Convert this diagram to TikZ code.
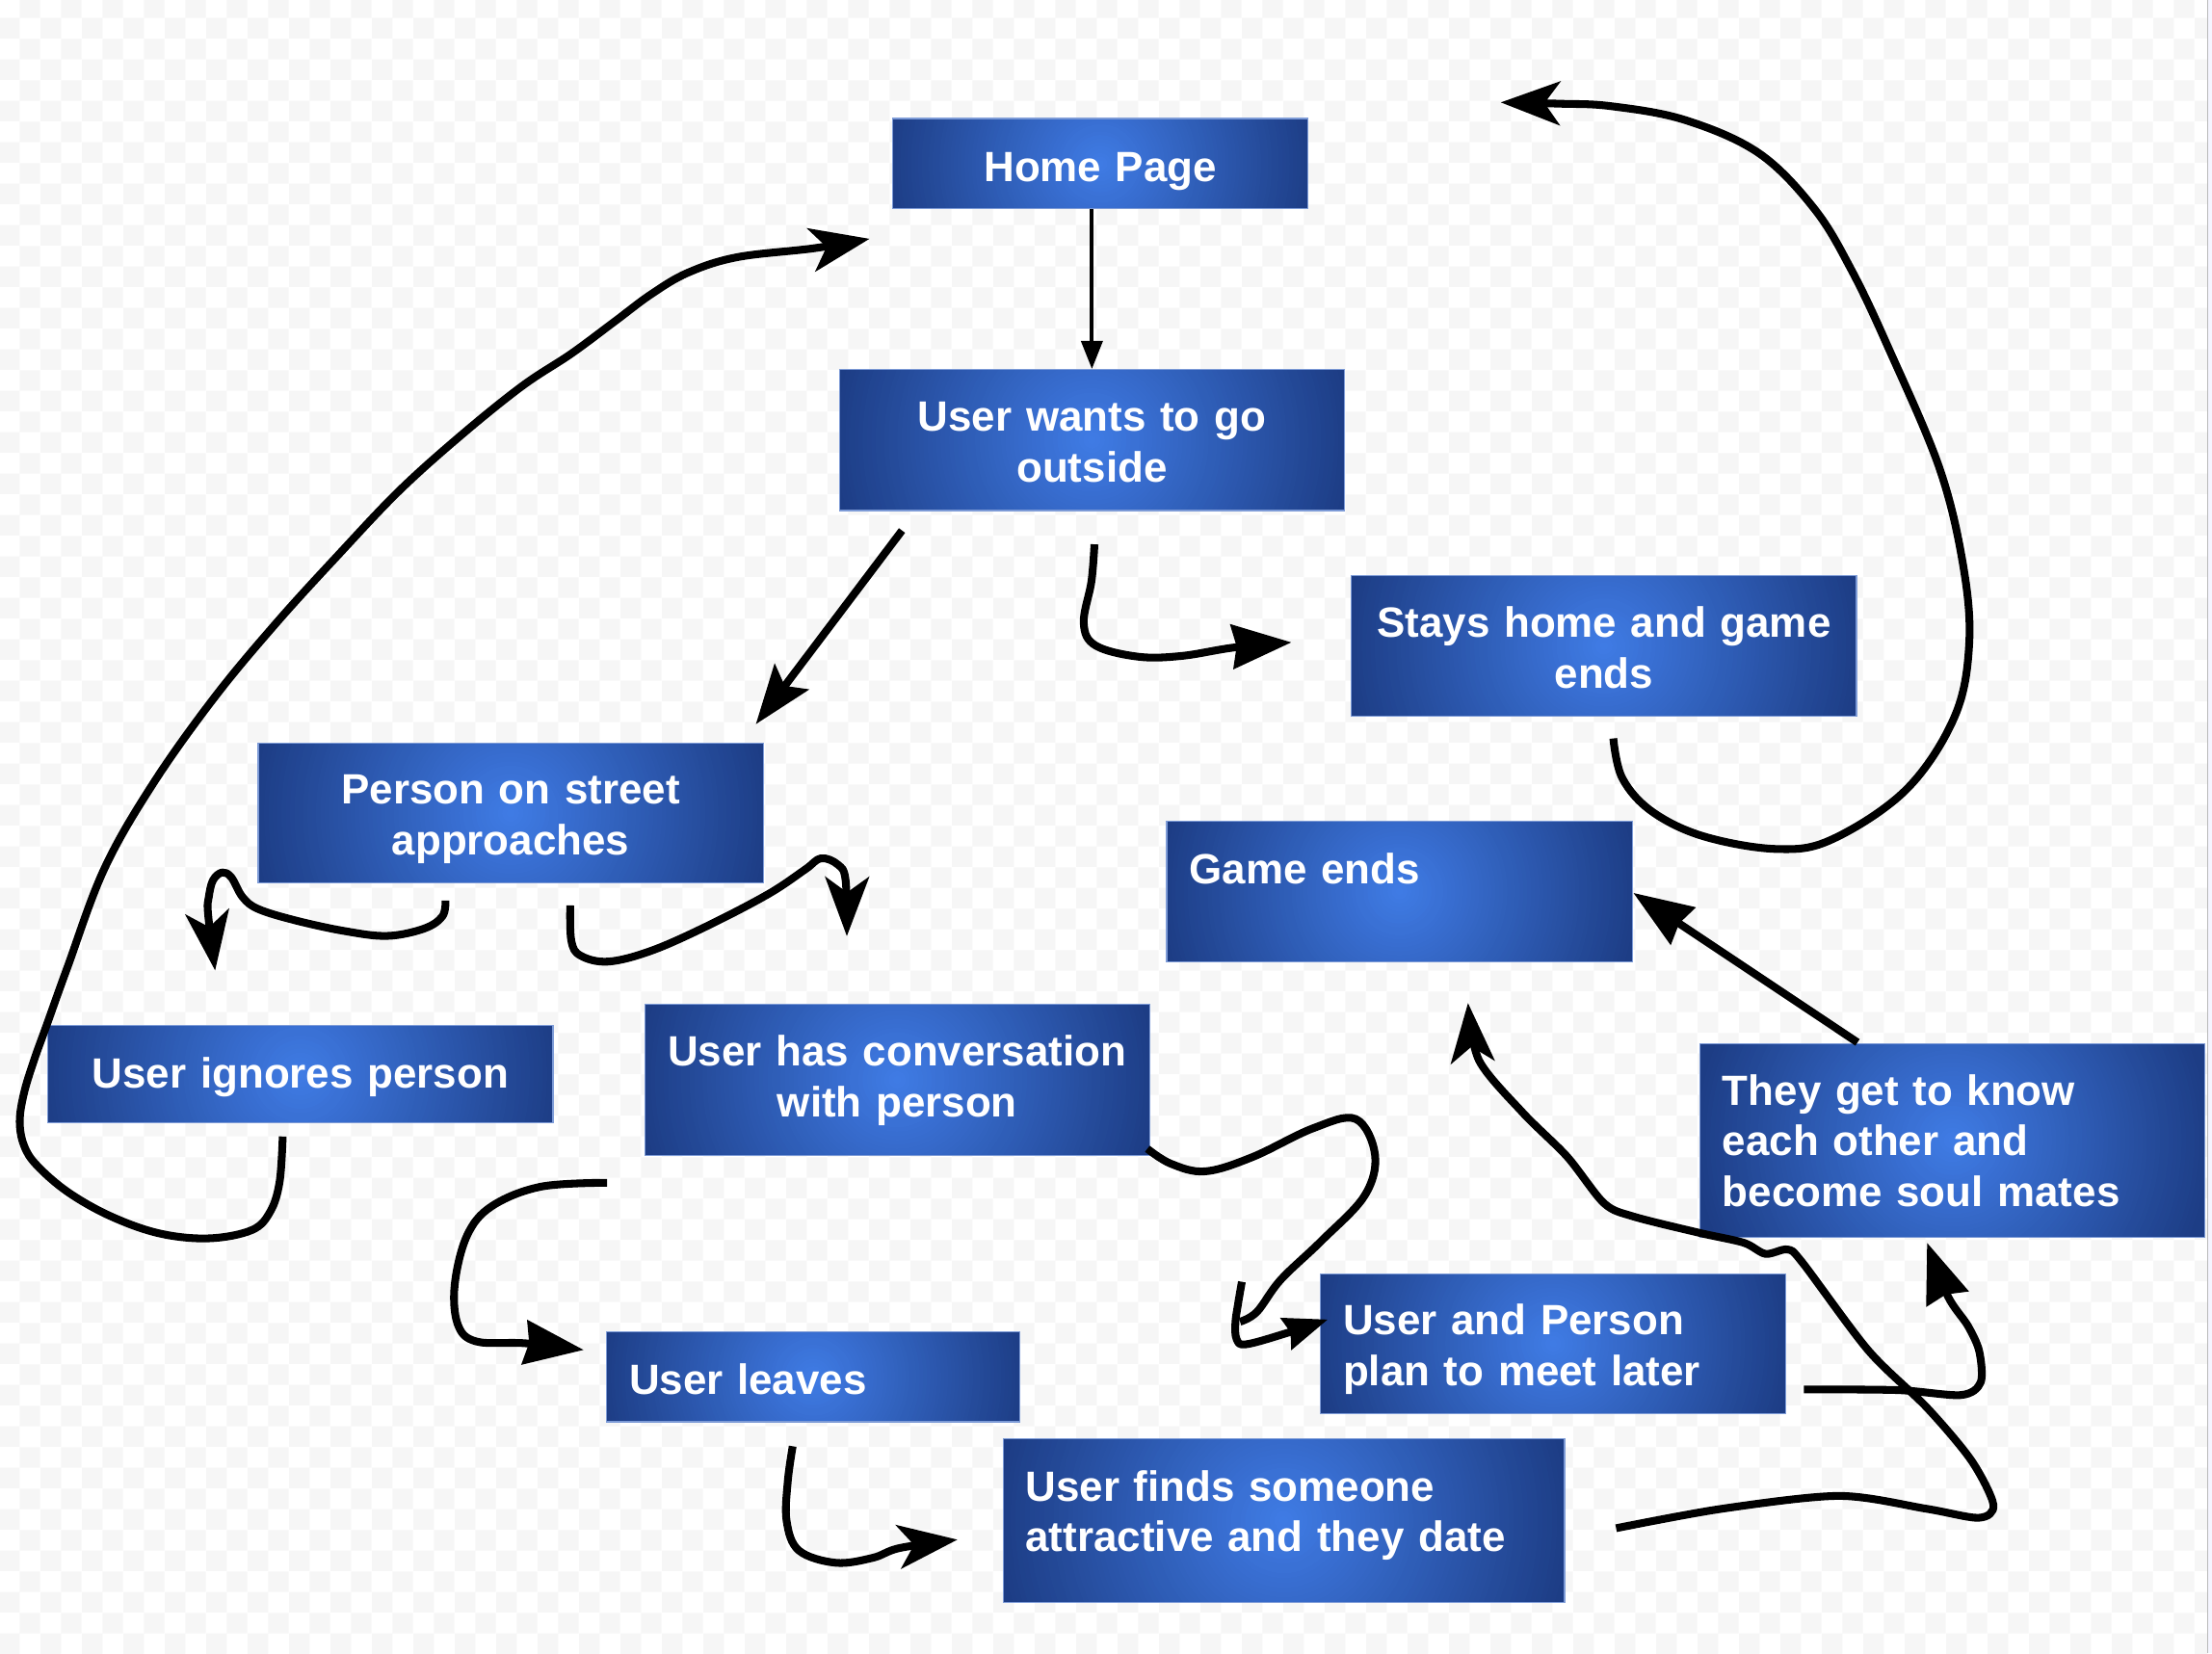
\documentclass[tikz,border=0pt]{standalone}
\usepackage{fontspec}
\newfontfamily\boxfamily{Liberation Sans}
\usetikzlibrary{arrows.meta,patterns}
\definecolor{bl1}{RGB}{64,124,230}
\definecolor{bl2}{RGB}{29,61,133}
\definecolor{bedge}{RGB}{125,155,215}
\definecolor{chk}{RGB}{246,246,246}
\pgfdeclarepatternformonly{bgcheck}{\pgfpointorigin}{\pgfpoint{29.6pt}{29.6pt}}{\pgfpoint{29.6pt}{29.6pt}}{%
  \pgfpathrectangle{\pgfpointorigin}{\pgfpoint{14.8pt}{14.8pt}}%
  \pgfpathrectangle{\pgfpoint{14.8pt}{14.8pt}}{\pgfpoint{14.8pt}{14.8pt}}%
  \pgfusepath{fill}}
\tikzset{
  box/.style={rectangle, draw=bedge, line width=0.8pt, fill=bl2, text=white,
    font=\boxfamily\bfseries\fontsize{30pt}{36pt}\selectfont,
    inner xsep=16pt, inner ysep=0pt, text height=30pt},
  shader/.style={path picture={%
    \foreach \i in {0,...,59}{%
      \pgfmathtruncatemacro{\pc}{round(100*\i/60)}%
      \fill[bl1!\pc!bl2] (path picture bounding box.center) circle[radius={#1*(1-\i/60)*1pt}];
    }}},
  conn/.style={line width=5.5pt, line join=round, black},
  pen/.style={-{Stealth[length=42pt,width=31pt,inset=11pt]}},
  tri/.style={-{Stealth[length=42pt,width=31pt,inset=3pt]}},
  smalltri/.style={-{Stealth[length=31pt,width=23pt,inset=3pt]}}
}
\begin{document}
\begin{tikzpicture}[x=1pt,y=-1pt]
\useasboundingbox (0,0) rectangle (1568,1172);
\fill[white] (0,0) rectangle (1565,1172);
\fill[pattern=bgcheck, pattern color=chk] (0,0) rectangle (1565,1172);
\fill[white!96!blue] (1565,0) rectangle (1568,1172);
\draw[gray!55, line width=0.8pt] (1565,0) -- (1565,1172);

% boxes
\node[box, shader=152, minimum width=294pt, minimum height=64pt, text width=262pt, align=center, text depth=4.8pt] (home) at (780,116) {Home Page};
\node[box, shader=184, minimum width=358pt, minimum height=100pt, text width=326pt, align=center, text depth=42.4pt] (outside) at (774,312) {User wants to go\\outside};
\node[box, shader=184, minimum width=358pt, minimum height=100pt, text width=326pt, align=center, text depth=42pt] (stays) at (1137,458) {Stays home and game\\ends};
\node[box, shader=170, minimum width=330pt, minimum height=100pt, text width=298pt, align=left, text depth=40.8pt] (gameends) at (992,632) {Game ends};
\node[box, shader=184, minimum width=358pt, minimum height=99pt, text width=326pt, align=center, text depth=43pt] (person) at (362,576.5) {Person on street\\approaches};
\node[box, shader=184, minimum width=358pt, minimum height=69pt, text width=326pt, align=center, text depth=9.8pt] (ignores) at (213,761.5) {User ignores person};
\node[box, shader=184, minimum width=358pt, minimum height=107pt, text width=326pt, align=center, text depth=49.2pt] (conv) at (636,765.5) {User has conversation\\with person};
\node[box, shader=151, minimum width=293pt, minimum height=64pt, text width=261pt, align=left, text depth=5.4pt] (leaves) at (576.5,976) {User leaves};
\node[box, shader=170, minimum width=330pt, minimum height=99pt, text width=298pt, align=left, text depth=42.2pt] (plan) at (1101,952.5) {User and Person\\plan to meet later};
\node[box, shader=204, minimum width=398pt, minimum height=116pt, text width=366pt, align=left, text depth=58pt] (finds) at (910,1078) {User finds someone\\attractive and they date};
\node[box, shader=184, minimum width=358pt, minimum height=137pt, text width=326pt, align=left, text depth=80pt] (soul) at (1384,808.5) {They get to know\\each other and\\become soul mates};

% free ends of the hand-drawn connectors
\coordinate (bS) at (639.4,376.1);   \coordinate (bE) at (535.8,513.4);
\coordinate (cS) at (775.8,385.9);   \coordinate (cE) at (915.5,455.4);
\coordinate (dS) at (1143.6,523.5);  \coordinate (dE) at (1063.8,72.6);
\coordinate (eS) at (200.4,805.7);   \coordinate (eE) at (616.4,169.3);
\coordinate (fS) at (315.8,638.4);   \coordinate (fE) at (152.5,688);
\coordinate (gS) at (404.2,641.9);   \coordinate (gE) at (600.3,663.7);
\coordinate (hS) at (430.4,838.5);   \coordinate (hE) at (413.8,957);
\coordinate (iS) at (561.9,1025.3);  \coordinate (iE) at (678.7,1091.5);
\coordinate (jS) at (813.3,814.4);   \coordinate (jM) at (880.3,908.7);  \coordinate (jE) at (941.3,935.4);
\coordinate (kS) at (1145.6,1083.4); \coordinate (kE) at (1040.6,711.1);
\coordinate (lS) at (1278.7,985);    \coordinate (lE) at (1366,881);
\coordinate (mS) at (1316.7,739);    \coordinate (mE) at (1157.8,633);

% Home Page -> User wants to go outside
\draw[line width=2.8pt, -{Triangle[length=20pt,width=15pt]}] (outside.north |- home.south) -- (outside.north);
% outside -> person
\draw[conn, -{Stealth[length=42pt,width=30pt,inset=8pt]}] (bS) -- (bE);
% outside -> stays
\draw[conn, tri] plot[smooth, tension=0.6] coordinates {(cS) (773.7,412) (768.2,441.7) (776.7,457.7) (807.2,465.6) (837.7,465) (875,459) (cE)};
% stays -> top
\draw[conn, pen] plot[smooth, tension=0.6] coordinates {(dS) (1150,551.7) (1171,575.3) (1207.6,592.9) (1259.8,601.9) (1299,594.9) (1351.4,559.6) (1385.3,508.6) (1395.8,457.7) (1391.9,402.7) (1374.9,332.2) (1338.3,245.9) (1312.2,191) (1286,147.9) (1246.8,108.6) (1194.5,85.1) (1142.2,75.3) (1105,73.5) (dE)};
% ignores -> home (big loop)
\draw[conn, pen] plot[smooth, tension=0.6] coordinates {(eS) (198.2,837.8) (191.7,858.7) (178.6,872) (148,877.9) (113,874.4) (78.4,862.2) (48,845) (26,826) (17,812) (14,795) (17,775) (24,752) (33,727) (47.9,685.5) (74,615.8) (109,554.8) (152.5,493.8) (196,441.5) (239.6,393.6) (283,347.9) (326.7,308.7) (370,273.8) (405,250.7) (435.6,228) (461.7,208.5) (487.9,193.2) (522.7,182.3) (577,176) (eE)};
% person -> ignores
\draw[conn, pen] plot[smooth, tension=0.6] coordinates {(fS) (313.6,649.6) (300.6,658.3) (274.4,663.5) (244,660) (209,652.4) (183,644.4) (172,636) (164,622) (157.5,618.5) (151,624) (148,636) (147.5,648) (fE)};
% person -> conversation
\draw[conn, pen] plot[smooth, tension=0.6] coordinates {(gS) (405,667) (411.6,677.5) (431.2,681.7) (461.7,674) (501,656.6) (544.5,633.9) (570.6,616.5) (582,608.5) (594,613) (599.4,624) (gE)};
% conversation -> leaves
\draw[conn, tri] plot[smooth, tension=0.6] coordinates {(hS) (383.3,841.3) (348.5,855.2) (331,876.1) (322.3,911) (324.5,938.9) (337.6,951) (372.4,952.3) (hE)};
% leaves -> finds
\draw[conn, pen] plot[smooth, tension=0.6] coordinates {(iS) (558.4,1050.4) (557.6,1078.3) (566.3,1099.2) (592.4,1107.9) (618.6,1104.4) (638,1097.4) (iE)};
% conversation -> plan
\draw[conn] plot[smooth, tension=0.6] coordinates {(jS) (830,825) (854.4,830.4) (888,820.2) (930.7,799.9) (961,793.3) (974.7,818.8) (967.2,847.8) (936.7,879.7) (907.8,907.3) (891,930) (879,937)};
\draw[conn, smalltri] plot[smooth, tension=0.6] coordinates {(jM) (877.5,925) (875.7,938) (876.6,949.4) (883.4,953) (912.3,945) (jE)};
% finds -> game ends
\draw[conn, pen] plot[smooth, tension=0.5] coordinates {(kS) (1220,1069.7) (1303.7,1060.5) (1366,1069.7) (1402.7,1076) (1413,1066.7) (1397.5,1035.5) (1366,998) (1324.5,957.5) (1277.6,895) (1267,885.8) (1251.5,888.9) (1236,881) (1204.6,874) (1157.8,862.4) (1137,853) (1110.9,820) (1079.6,789) (1048.4,751.7) (kE)};
% plan -> soul
\draw[conn, tri] plot[smooth, tension=0.5] coordinates {(lS) (1345.6,985.5) (1390,989) (1404,980) (1403,958) (1395,940) (1381,919.4) (lE)};
% soul -> game ends
\draw[conn, tri] (mS) -- (mE);
\end{tikzpicture}
\end{document}
